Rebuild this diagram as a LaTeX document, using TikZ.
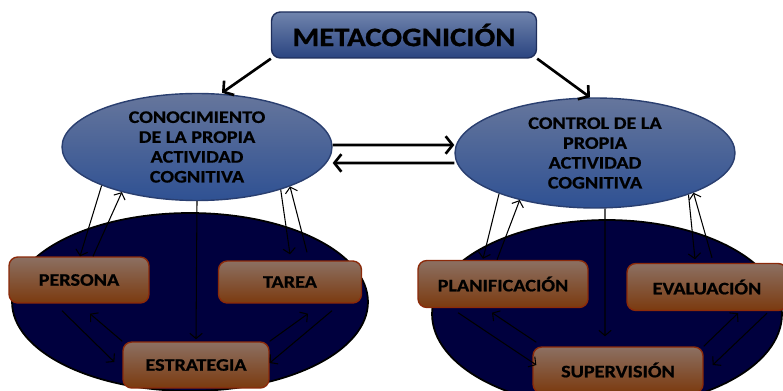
\documentclass[tikz,border=0pt]{standalone}
\usepackage{fontspec}
\setmainfont{Carlito}[FakeStretch=1.15,BoldFeatures={FakeBold=0.8}]
\usetikzlibrary{shapes.geometric,arrows.meta}
\definecolor{metatop}{HTML}{7084AD}
\definecolor{metabot}{HTML}{2A4480}
\definecolor{metaline}{HTML}{1F2F5C}
\definecolor{elltop}{HTML}{66769C}
\definecolor{ellbot}{HTML}{2F5193}
\definecolor{ellline}{HTML}{2A3F70}
\definecolor{boxtop}{HTML}{8C7062}
\definecolor{boxbot}{HTML}{7B3A0F}
\definecolor{boxline}{HTML}{8B2A0A}
\definecolor{navy}{HTML}{00003E}
\tikzset{
    metabox/.style={
        draw=metaline, line width=0.8pt, rounded corners=5pt,
        top color=metatop, bottom color=metabot,
        minimum width=5.3cm, minimum height=0.92cm,
        font=\bfseries\fontsize{15.2}{18}\selectfont
    },
    areaell/.style={
        ellipse, draw=ellline, line width=0.8pt,
        top color=elltop, bottom color=ellbot,
        inner sep=0pt, align=center,
        font=\bfseries\fontsize{10}{11.3}\selectfont
    },
    subbox/.style={
        draw=boxline, line width=0.8pt, rounded corners=5pt,
        top color=boxtop, bottom color=boxbot,
        minimum height=0.92cm,
        font=\bfseries\fontsize{10}{12}\selectfont
    },
    ground/.style={fill=navy, draw=black, line width=1pt},
    mainarrow/.style={line width=1.5pt, -{Straight Barb[length=4pt,width=10pt]}},
    linkarrow/.style={line width=0.6pt, -{Straight Barb[length=3pt,width=7pt]}}
}

\begin{document}
\begin{tikzpicture}[x=0.02cm,y=-0.02cm]
\useasboundingbox (0,0) rectangle (783,391);
\clip (0,0) rectangle (783,391);
\fill[white] (0,0) rectangle (783,391);
\draw[ground] (190,302) ellipse [x radius=3.56cm, y radius=1.78cm];
\draw[ground] (607,314) ellipse [x radius=3.5cm, y radius=1.88cm];
\node[metabox] (meta) at (404,35) {METACOGNICIÓN};
\node[areaell, minimum width=5.4cm, minimum height=2.14cm] (kno) at (197,147) {CONOCIMIENTO\\DE LA PROPIA\\ACTIVIDAD\\COGNITIVA};
\node[areaell, minimum width=5.6cm, minimum height=2.2cm] (ctl) at (595,153) {CONTROL DE LA\\PROPIA\\ACTIVIDAD\\COGNITIVA};
\node[subbox, minimum width=2.8cm] (persona) at (79,280) {PERSONA};
\node[subbox, minimum width=2.86cm, minimum height=0.84cm] (tarea) at (290,282) {TAREA};
\node[subbox, minimum width=2.92cm] (estrategia) at (196,365) {ESTRATEGIA};
\node[subbox, minimum width=3.4cm, minimum height=0.94cm] (planif) at (503,284) {PLANIFICACIÓN};
\node[subbox, minimum width=3.2cm, minimum height=0.94cm] (evalua) at (707,287) {EVALUACIÓN};
\node[subbox, minimum width=3.4cm] (superv) at (618,370) {SUPERVISIÓN};
\draw[mainarrow] (meta.south west) -- ([xshift=0.5cm]kno.north);
\draw[mainarrow] (meta.south east) -- ([xshift=-0.1cm]ctl.north);
\draw[mainarrow] ([yshift=0.04cm]kno.east) -- ([yshift=0.16cm]ctl.west);
\draw[mainarrow] ([yshift=-0.2cm]ctl.west) -- ([yshift=-0.32cm]kno.east);
\draw[linkarrow] (kno.202) -- ([xshift=0.02cm]persona.north);
\draw[linkarrow] ([xshift=0.28cm]persona.north) -- (kno.211);
\draw[linkarrow] (kno.333) -- ([yshift=0.12cm]tarea.north);
\draw[linkarrow] ([xshift=0.34cm,yshift=0.16cm]tarea.north) -- (kno.337);
\draw[linkarrow] (kno.south) -- ([yshift=0.04cm]estrategia.north);
\draw[linkarrow] ([xshift=-0.34cm,yshift=-0.14cm]persona.south) -- ([xshift=-0.16cm,yshift=0.06cm]estrategia.west);
\draw[linkarrow] (estrategia.north west) -- ([xshift=0.22cm,yshift=-0.2cm]persona.south);
\draw[linkarrow] (estrategia.north east) -- ([xshift=0.36cm,yshift=-0.2cm]tarea.south);
\draw[linkarrow] ([xshift=0.84cm,yshift=-0.14cm]tarea.south) -- ([yshift=0.04cm]estrategia.east);
\draw[linkarrow] (ctl.203) -- ([xshift=-0.4cm,yshift=0.02cm]planif.north);
\draw[linkarrow] ([xshift=-0.12cm]planif.north) -- (ctl.212);
\draw[linkarrow] (ctl.336) -- ([xshift=-0.24cm,yshift=0.07cm]evalua.north);
\draw[linkarrow] ([xshift=0.1cm,yshift=0.1cm]evalua.north) -- (ctl.338);
\draw[linkarrow] ([xshift=0.2cm]ctl.south) -- ([xshift=-0.26cm,yshift=0.2cm]superv.north);
\draw[linkarrow] ([xshift=-0.9cm,yshift=-0.09cm]planif.south) -- ([xshift=0.08cm,yshift=0.1cm]superv.west);
\draw[linkarrow] ([xshift=0.08cm,yshift=0.08cm]superv.north west) -- ([xshift=-0.22cm,yshift=-0.09cm]planif.south);
\draw[linkarrow] (superv.north east) -- ([xshift=0.62cm,yshift=-0.04cm]evalua.south);
\draw[linkarrow] ([xshift=1.2cm,yshift=-0.04cm]evalua.south) -- ([xshift=0.18cm,yshift=0.1cm]superv.east);
\end{tikzpicture}
\end{document}
